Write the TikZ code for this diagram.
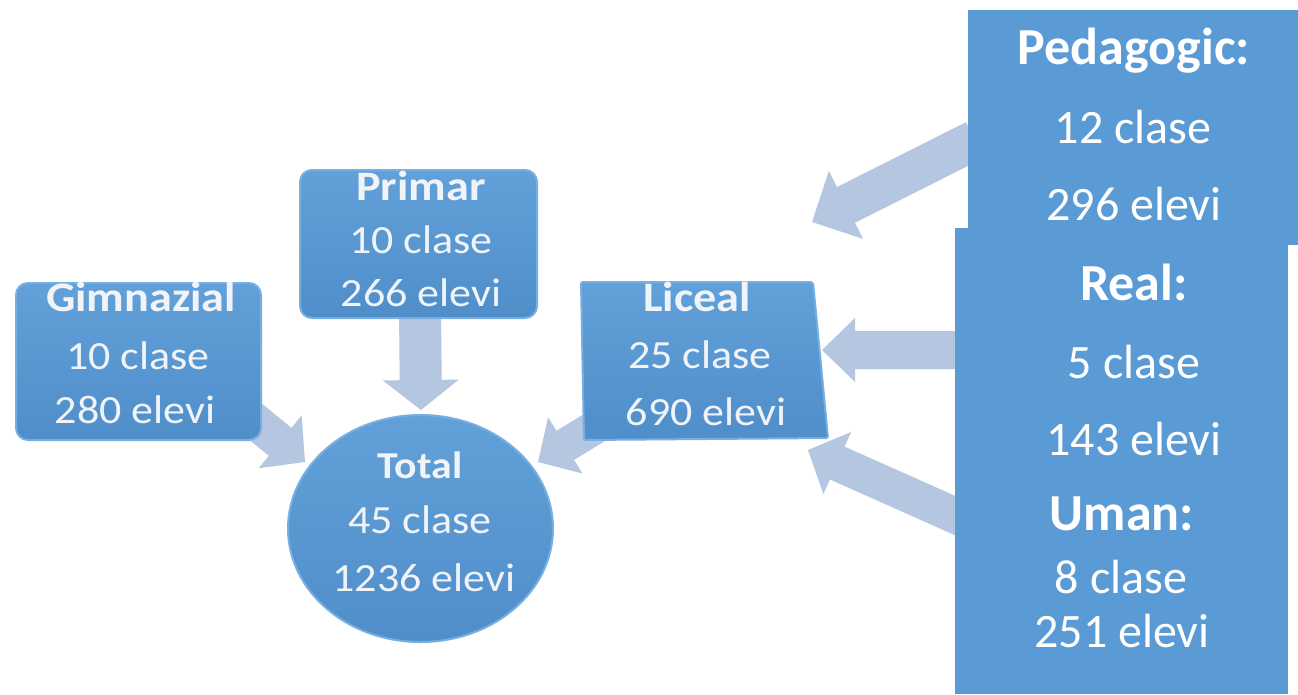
\documentclass[tikz,border=0pt]{standalone}
\usepackage{fontspec}
\setmainfont{Carlito}
\newfontfamily\leftfont[FakeStretch=1.1]{Carlito}
\usetikzlibrary{calc,shapes.geometric}
\definecolor{boxblue}{RGB}{91,155,213}
\definecolor{topblue}{RGB}{98,160,217}
\definecolor{darkblue}{RGB}{80,142,202}
\definecolor{edgeblue}{RGB}{120,175,226}
\definecolor{arrfill}{RGB}{180,198,224}
\definecolor{softwhite}{RGB}{240,244,249}
\tikzset{
  shapebox/.style={draw=edgeblue, line width=2pt, top color=topblue, bottom color=darkblue},
  flatbox/.style={fill=boxblue, draw=none, inner sep=0pt},
  ltitle/.style={anchor=base, text=softwhite, font=\leftfont\bfseries\fontsize{42}{50}\selectfont, inner sep=0pt},
  ltext/.style={anchor=base, text=softwhite, font=\leftfont\fontsize{40}{48}\selectfont, inner sep=0pt},
  rtitle/.style={anchor=base, text=white, font=\bfseries\fontsize{52}{60}\selectfont, inner sep=0pt},
  rtext/.style={anchor=base, text=white, font=\fontsize{48}{56}\selectfont, inner sep=0pt},
  arrowfill/.style={fill=arrfill},
}
% #1 start, #2 tip, #3 shaft half width, #4 head half width, #5 head length
\newcommand\blockarr[5]{%
  \path coordinate (tmpB) at ($(#2)!#5!(#1)$);
  \fill[arrowfill] ($(#1)!#3!90:(#2)$) -- ($(tmpB)!#3!90:(#2)$) -- ($(tmpB)!#4!90:(#2)$)
    -- (#2) -- ($(tmpB)!#4!-90:(#2)$) -- ($(tmpB)!#3!-90:(#2)$) -- ($(#1)!#3!-90:(#2)$) -- cycle;
}
\begin{document}
\begin{tikzpicture}[x=1pt,y=-1pt]
\useasboundingbox (0,0) rectangle (1298,694);
\fill[white] (0,0) rectangle (1298,694);

% arrow end points
\coordinate (gS) at (235,405);  \coordinate (gT) at (305,462);
\coordinate (prS) at (420,310); \coordinate (prT) at (421,410);
\coordinate (lS) at (615,415);  \coordinate (lT) at (538,462);
\coordinate (pS) at (975,140);  \coordinate (pT) at (812,222);
\coordinate (rS) at (960,350);  \coordinate (rT) at (822,350);
\coordinate (uS) at (965,520);  \coordinate (uT) at (808,450);

\blockarr{gS}{gT}{18pt}{34pt}{32pt}
\blockarr{prS}{prT}{21pt}{38pt}{30pt}
\blockarr{lS}{lT}{17pt}{33pt}{32pt}
\blockarr{pS}{pT}{20pt}{38pt}{38pt}
\blockarr{rS}{rT}{19pt}{32pt}{33pt}
\blockarr{uS}{uT}{18pt}{34pt}{32pt}

% left shapes
\node[shapebox, rounded corners=12pt, minimum width=245pt, minimum height=157pt, inner sep=0pt] (gim) at (138.5,361.5) {};
\node[shapebox, rounded corners=12pt, minimum width=237pt, minimum height=148pt, inner sep=0pt] (pri) at (418.5,244) {};
\path[shapebox, rounded corners=2pt] (581,282) -- (813,282) -- (828,438) -- (584,440) -- cycle;
\node[shapebox, ellipse, minimum width=265pt, minimum height=227pt, inner sep=0pt] (tot) at (420.5,528.5) {};

% left texts
\node[ltitle] (gim1) at (141,311) {Gimnazial};
\node[ltext]  (gim2) at (138,369) {10 clase};
\node[ltext]  (gim3) at (135,423) {280 elevi};
\node[ltitle] (pri1) at (421,200) {Primar};
\node[ltext]  (pri2) at (421,253) {10 clase};
\node[ltext]  (pri3) at (421,306) {266 elevi};
\node[ltitle] (lic1) at (697,311) {Liceal};
\node[ltext]  (lic2) at (700,368) {25 clase};
\node[ltext]  (lic3) at (706,425) {690 elevi};
\node[ltitle, font=\leftfont\bfseries\fontsize{38}{46}\selectfont] (tot1) at (420,478) {Total};
\node[ltext]  (tot2) at (420,533) {45 clase};
\node[ltext]  (tot3) at (424,591) {1236 elevi};

% right boxes
\node[flatbox, minimum width=330pt, minimum height=235pt] (ped) at (1133,127.5) {};
\node[flatbox, minimum width=333pt, minimum height=466pt] (real) at (1121.5,461) {};

\node[rtitle] (ped1) at (1134,64) {Pedagogic:};
\node[rtext]  (ped2) at (1133,143) {12 clase};
\node[rtext]  (ped3) at (1134,220) {296 elevi};
\node[rtitle] (rea1) at (1134,300) {Real:};
\node[rtext]  (rea2) at (1134,378) {5 clase};
\node[rtext]  (rea3) at (1134,455) {143 elevi};
\node[rtitle] (uma1) at (1122,530) {Uman:};
\node[rtext]  (uma2) at (1121,593) {8 clase};
\node[rtext]  (uma3) at (1122,647) {251 elevi};
\end{tikzpicture}
\end{document}
